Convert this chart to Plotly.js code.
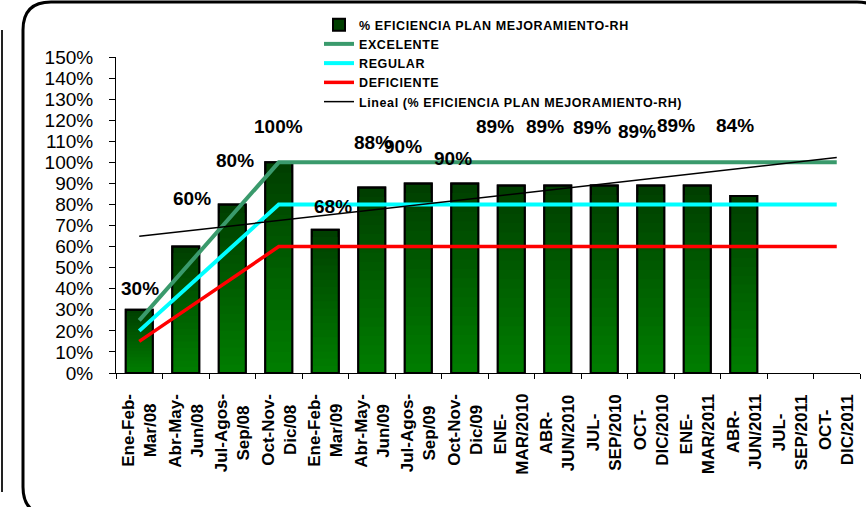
<!DOCTYPE html>
<html>
<head>
<meta charset="utf-8">
<script src="https://cdn.plot.ly/plotly-3.0.1.min.js"></script>
<style>html,body{margin:0;padding:0;background:#fff;}#chart{width:866px;height:507px;}
.legendtext{letter-spacing:0.6px;}</style>
</head>
<body>
<div id="chart"></div>
<script>
// ---------- data ----------
const CATEGORIES = [
  "Ene-Feb-<br>Mar/08", "Abr-May-<br>Jun/08", "Jul-Agos-<br>Sep/08", "Oct-Nov-<br>Dic/08",
  "Ene-Feb-<br>Mar/09", "Abr-May-<br>Jun/09", "Jul-Agos-<br>Sep/09", "Oct-Nov-<br>Dic/09",
  "ENE-<br>MAR/2010", "ABR-<br>JUN/2010", "JUL-<br>SEP/2010", "OCT-<br>DIC/2010",
  "ENE-<br>MAR/2011", "ABR-<br>JUN/2011", "JUL-<br>SEP/2011", "OCT-<br>DIC/2011"
];
const EFICIENCIA = [30, 60, 80, 100, 68, 88, 90, 90, 89, 89, 89, 89, 89, 84, null, null];
const EXCELENTE  = [25, 50, 75, 100, 100, 100, 100, 100, 100, 100, 100, 100, 100, 100, 100, 100];
const REGULAR    = [20, 40, 60, 80, 80, 80, 80, 80, 80, 80, 80, 80, 80, 80, 80, 80];
const DEFICIENTE = [15, 30, 45, 60, 60, 60, 60, 60, 60, 60, 60, 60, 60, 60, 60, 60];
const Y_TICK_VALS = [0, 10, 20, 30, 40, 50, 60, 70, 80, 90, 100, 110, 120, 130, 140, 150];
const Y_TICK_TEXT = ["0%", "10%", "20%", "30%", "40%", "50%", "60%", "70%", "80%", "90%", "100%", "110%", "120%", "130%", "140%", "150%"];
const NAMES = ["% EFICIENCIA PLAN MEJORAMIENTO-RH", "EXCELENTE", "REGULAR", "DEFICIENTE", "Lineal (% EFICIENCIA PLAN MEJORAMIENTO-RH)"];

// ---------- label placement (layout only) ----------
const LABEL_DX = [0.02, 0.13, 0.06, 0.0, 0.17, 0.03, -0.33, -0.26, -0.35, -0.27, -0.26, -0.29, -0.46, -0.19];
const LABEL_DY = [10.3, 22.6, 21.1, 16.9, 10.8, 21.2, 17.4, 11.9, 27.9, 28.2, 27.6, 25.5, 28.7, 33.7];

const FONT = "Liberation Sans, Arial, sans-serif";

// linear trend (least squares over existing points)
const pts = EFICIENCIA.map((v, i) => [i + 1, v]).filter(p => p[1] !== null);
const n = pts.length;
const mx = pts.reduce((s, p) => s + p[0], 0) / n;
const my = pts.reduce((s, p) => s + p[1], 0) / n;
const slope = pts.reduce((s, p) => s + (p[0] - mx) * (p[1] - my), 0) / pts.reduce((s, p) => s + (p[0] - mx) * (p[0] - mx), 0);
const TREND = CATEGORIES.map((c, i) => my + slope * (i + 1 - mx));

const traces = [];
const BAR_W = 0.58;
traces.push({
  type: "bar", x: CATEGORIES, y: EFICIENCIA, name: NAMES[0], width: BAR_W,
  marker: { color: "#003f00", line: { color: "#000", width: 2 } }, hoverinfo: "skip"
});
const N = 20;
for (let k = 1; k < N; k++) {
  const f = 1 - k / N;
  const h = 1 - (k + 0.5) / N;
  const g = Math.round(0x7e - (0x7e - 0x3e) * h);
  traces.push({
    type: "bar", x: CATEGORIES, y: EFICIENCIA.map(v => v === null ? null : v * f), width: BAR_W,
    showlegend: false, hoverinfo: "skip",
    marker: { color: "rgb(0," + g + ",0)", line: { width: 0 } }
  });
}
traces.push({
  type: "bar", x: CATEGORIES, y: EFICIENCIA, width: BAR_W, showlegend: false, hoverinfo: "skip",
  marker: { color: "rgba(0,0,0,0)", line: { color: "#000", width: 2 } }
});
traces.push({ type: "scatter", mode: "lines", x: CATEGORIES, y: EXCELENTE, name: NAMES[1], line: { color: "#3a9a6c", width: 4 } });
traces.push({ type: "scatter", mode: "lines", x: CATEGORIES, y: REGULAR, name: NAMES[2], line: { color: "#00ffff", width: 4 } });
traces.push({ type: "scatter", mode: "lines", x: CATEGORIES, y: DEFICIENTE, name: NAMES[3], line: { color: "#ff0000", width: 3.5 } });
traces.push({ type: "scatter", mode: "lines", x: CATEGORIES, y: TREND, name: NAMES[4], line: { color: "#000", width: 1.5 } });

const L = 116, T = 57, W = 744, H = 316;
const px = x => (x - L) / W;
const py = y => (T + H - y) / H;

const annotations = [];
EFICIENCIA.forEach((v, i) => {
  if (v === null) return;
  annotations.push({
    x: i + LABEL_DX[i], y: v + LABEL_DY[i], xref: "x", yref: "y",
    text: v + "%", showarrow: false,
    font: { family: FONT, size: 19, color: "#000", weight: "bold" }
  });
});
// category labels (rotated, centred lines)
CATEGORIES.forEach((c, i) => {
  annotations.push({
    x: i, y: py(392), xref: "x", yref: "paper", xanchor: "center", yanchor: "top",
    text: c, textangle: -90, align: "center", showarrow: false,
    font: { family: FONT, size: 17, color: "#000", weight: "bold" }
  });
});

const fx1 = 23, fy1 = 2, fx2 = 885, fy2 = 515, r = 28;
const framePath = "M" + px(fx1) + "," + py(fy1 + r) +
  " Q" + px(fx1) + "," + py(fy1) + " " + px(fx1 + r) + "," + py(fy1) +
  " L" + px(fx2 - r) + "," + py(fy1) +
  " Q" + px(fx2) + "," + py(fy1) + " " + px(fx2) + "," + py(fy1 + r) +
  " L" + px(fx2) + "," + py(fy2 - r) +
  " Q" + px(fx2) + "," + py(fy2) + " " + px(fx2 - r) + "," + py(fy2) +
  " L" + px(fx1 + r) + "," + py(fy2) +
  " Q" + px(fx1) + "," + py(fy2) + " " + px(fx1) + "," + py(fy2 - r) + " Z";

const layout = {
  width: 866, height: 507,
  margin: { l: L, r: 866 - L - W, t: T, b: 507 - T - H, pad: 0, autoexpand: false },
  paper_bgcolor: "#fff", plot_bgcolor: "#fff",
  barmode: "overlay",
  font: { family: FONT, color: "#000" },
  showlegend: true,
  legend: {
    x: px(319), y: py(10), xref: "paper", yref: "paper",
    xanchor: "left", yanchor: "top", bgcolor: "rgba(0,0,0,0)",
    font: { family: FONT, size: 12.5, color: "#000", weight: "bold" },
    traceorder: "normal"
  },
  xaxis: {
    type: "category", range: [-0.5, 15.5], showticklabels: false,
    showline: true, linecolor: "#000", linewidth: 1, showgrid: false, zeroline: false,
    ticks: "outside", ticklen: 5, tickcolor: "#000", tickson: "boundaries"
  },
  yaxis: {
    range: [0, 150], tickvals: Y_TICK_VALS, ticktext: Y_TICK_TEXT,
    showline: true, linecolor: "#000", linewidth: 1, showgrid: false, zeroline: false,
    ticks: "outside", ticklen: 6, tickcolor: "#000", ticklabelstandoff: 12,
    tickfont: { family: FONT, size: 19, color: "#000" }
  },
  annotations: annotations,
  shapes: [
    { type: "path", xref: "paper", yref: "paper", path: framePath, line: { color: "#000", width: 3 }, fillcolor: "rgba(0,0,0,0)", layer: "below" },
    { type: "line", xref: "paper", yref: "paper", x0: px(2), x1: px(2), y0: py(30), y1: py(492), line: { color: "#222", width: 2 } }
  ]
};

Plotly.newPlot("chart", traces, layout, { displayModeBar: false, staticPlot: true });
</script>
</body>
</html>
